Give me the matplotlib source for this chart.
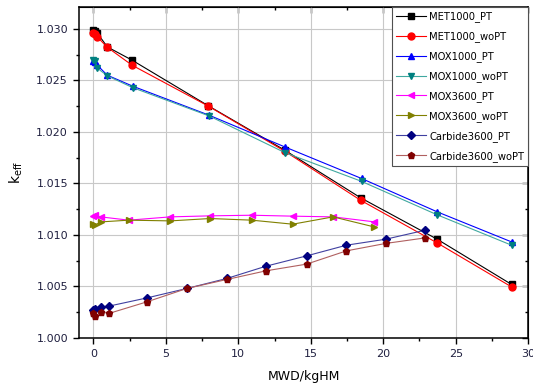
import numpy as np
import matplotlib
matplotlib.use("Agg")
import matplotlib.pyplot as plt

# burnup steps (MWD/kgHM) and k_eff values
met_x = [0.0, 0.1, 0.27, 0.96, 2.67, 7.94, 13.2, 18.43, 23.72, 28.85]
met_pt = [1.02993, 1.02985, 1.02960, 1.02826, 1.02697, 1.02253, 1.01823, 1.01361, 1.00958, 1.00519]
met_wopt = [1.02965, 1.02950, 1.02923, 1.02822, 1.02648, 1.02250, 1.01813, 1.01337, 1.00922, 1.00495]

mox1_x = [0.0, 0.1, 0.27, 0.96, 2.72, 7.99, 13.2, 18.5, 23.72, 28.85]
mox1_pt = [1.02685, 1.02680, 1.02648, 1.02551, 1.02444, 1.02162, 1.01855, 1.01548, 1.01224, 1.00932]
mox1_wopt = [1.02695, 1.02690, 1.02620, 1.02545, 1.02430, 1.02155, 1.01800, 1.01520, 1.01195, 1.00900]

mox3_x = [0.0, 0.1, 0.5, 2.44, 5.31, 8.06, 10.93, 13.75, 16.54, 19.36]
mox3_pt = [1.01180, 1.01191, 1.01175, 1.01143, 1.01175, 1.01185, 1.01191, 1.01182, 1.01175, 1.01127]
mox3_wopt = [1.01110, 1.01094, 1.01126, 1.01143, 1.01136, 1.01159, 1.01143, 1.01104, 1.01175, 1.01078]

carb_x = [0.0, 0.1, 0.54, 1.07, 3.7, 6.46, 9.21, 11.91, 14.71, 17.46, 20.17, 22.9]
carb_pt = [1.00275, 1.00285, 1.00301, 1.00308, 1.00388, 1.00480, 1.00577, 1.00696, 1.00796, 1.00900, 1.00958, 1.01046]
carb_wopt = [1.00237, 1.00211, 1.00252, 1.00237, 1.00350, 1.00480, 1.00567, 1.00651, 1.00716, 1.00845, 1.00917, 1.00971]

series = [
    ("MET1000_PT", met_x, met_pt, "black", "s"),
    ("MET1000_woPT", met_x, met_wopt, "red", "o"),
    ("MOX1000_PT", mox1_x, mox1_pt, "blue", "^"),
    ("MOX1000_woPT", mox1_x, mox1_wopt, "#008080", "v"),
    ("MOX3600_PT", mox3_x, mox3_pt, "magenta", "<"),
    ("MOX3600_woPT", mox3_x, mox3_wopt, "#808000", ">"),
    ("Carbide3600_PT", carb_x, carb_pt, "#000080", "D"),
    ("Carbide3600_woPT", carb_x, carb_wopt, "#800000", "p"),
]

line_colors = {
    "#008080": "#40a8a0",
    "#000080": "#4040a0",
    "#800000": "#b06060",
}

fig = plt.figure(figsize=(5.33, 3.87), dpi=100)
ax = fig.add_axes([0.148, 0.127, 0.843, 0.854])

for label, xs, ys, color, marker in series:
    ax.plot(xs, ys, color=line_colors.get(color, color), lw=0.8, marker=marker,
            markersize=5 if marker != "D" else 4.2, markerfacecolor=color,
            markeredgecolor=color, label=label, zorder=3)

ax.set_xlim(-1, 30)
ax.set_ylim(1.000, 1.0321)
ax.set_xticks(np.arange(0, 31, 5))
ax.set_xticks(np.arange(0, 30, 2.5), minor=True)
ax.set_yticks(np.arange(1.000, 1.0301, 0.005))
ax.set_yticks(np.arange(1.000, 1.032, 0.0025), minor=True)
ax.yaxis.set_major_formatter(matplotlib.ticker.FormatStrFormatter("%.3f"))

ax.grid(True, which="major", color="#c8c8c8", lw=0.8, zorder=0)
ax.tick_params(which="major", direction="out", length=4.3, width=1.0, labelsize=8, colors="black",
               labelcolor="#202040")
ax.tick_params(which="minor", direction="out", length=2.2, width=1.0)

for side in ["left", "bottom", "top", "right"]:
    ax.spines[side].set_linewidth(1.1)

# mirrored ticks pointing inward on top and right
top = ax.secondary_xaxis("top")
top.set_xticks(np.arange(0, 31, 5))
top.set_xticks(np.arange(0, 30, 2.5), minor=True)
top.tick_params(which="major", direction="in", length=4.3, width=1.0, labeltop=False)
top.tick_params(which="minor", direction="in", length=2.2, width=1.0)
right = ax.secondary_yaxis("right")
right.set_yticks(np.arange(1.000, 1.0301, 0.005))
right.set_yticks(np.arange(1.000, 1.032, 0.0025), minor=True)
right.tick_params(which="major", direction="in", length=4.3, width=1.0, labelright=False)
right.tick_params(which="minor", direction="in", length=2.2, width=1.0)

ax.set_xlabel("MWD/kgHM", fontsize=9, labelpad=8)
ax.set_ylabel(r"k$_{\mathrm{eff}}$", fontsize=10, labelpad=8)

leg = ax.legend(loc="upper right", fontsize=7.2, borderaxespad=0, fancybox=False,
                handlelength=3.0, handletextpad=0.3, labelspacing=0.9,
                edgecolor="#505050", framealpha=1)
leg.get_frame().set_linewidth(0.8)

fig.savefig("out.png", dpi=100)
